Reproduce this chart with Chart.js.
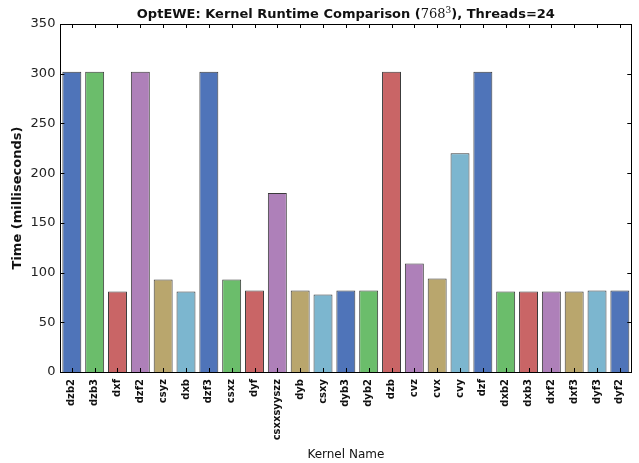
<!DOCTYPE html>
<html>
<head>
<meta charset="utf-8">
<script src="https://cdn.jsdelivr.net/npm/chart.js@4"></script>
<style>
  html, body { margin: 0; padding: 0; background: #fff; }
  #wrap { width: 639px; height: 463px; }
</style>
</head>
<body>
<div id="wrap"><canvas id="chart" width="639" height="463"></canvas></div>
<script>
// kernel names and runtimes (ms)
const kernels = ['dzb2', 'dzb3', 'dxf', 'dzf2', 'csyz', 'dxb', 'dzf3', 'csxz', 'dyf', 'csxxsyyszz',
    'dyb', 'csxy', 'dyb3', 'dyb2', 'dzb', 'cvz', 'cvx', 'cvy', 'dzf', 'dxb2', 'dxb3', 'dxf2', 'dxf3', 'dyf3', 'dyf2'];
const runtimes = [302, 302, 81, 302, 93, 81, 302, 93, 82, 180,
    82, 78, 82, 82, 302, 109, 94, 220, 302, 81, 81, 81, 81, 82, 82];
const yTicks = [0, 50, 100, 150, 200, 250, 300, 350];

// seaborn-ish cycle
const palette = ['#4f74b9', '#6bbd6b', '#c96566', '#ae80b9', '#b9a66d', '#7cb6cf'];
const barColors = kernels.map((k, i) => palette[i % palette.length]);

// title pieces: bold sans, with the grid size in serif + superscript
const titleParts = [
    { text: 'OptEWE: Kernel Runtime Comparison (', font: 'bold 13px "DejaVu Sans"', dy: 0 },
    { text: '768', font: '13px "DejaVu Serif"', dy: 0 },
    { text: '3', font: '9px "DejaVu Serif"', dy: -5 },
    { text: '), Threads=24', font: 'bold 13px "DejaVu Sans"', dy: 0 }
];

// inward tick marks on all four sides + frame + title over the plot area
const frameTicks = {
    id: 'frameTicks',
    afterDraw(chart) {
        const ctx = chart.ctx;
        const a = chart.chartArea;
        const xs = chart.scales.x, ys = chart.scales.y;
        const len = 4;
        ctx.save();
        ctx.strokeStyle = '#000';
        ctx.lineWidth = 1;
        ctx.beginPath();
        xs.ticks.forEach((t, i) => {
            const px = Math.round(xs.getPixelForTick(i)) + 0.5;
            ctx.moveTo(px, a.bottom); ctx.lineTo(px, a.bottom - len);
            ctx.moveTo(px, a.top); ctx.lineTo(px, a.top + len);
        });
        ys.ticks.forEach((t, i) => {
            const py = Math.round(ys.getPixelForTick(i)) + 0.5;
            ctx.moveTo(a.left, py); ctx.lineTo(a.left + len, py);
            ctx.moveTo(a.right, py); ctx.lineTo(a.right - len, py);
        });
        ctx.stroke();
        ctx.strokeRect(Math.round(a.left) + 0.5, Math.round(a.top) + 0.5,
            Math.round(a.right - a.left), Math.round(a.bottom - a.top));

        // title
        ctx.fillStyle = '#111';
        ctx.textBaseline = 'alphabetic';
        ctx.textAlign = 'left';
        let total = 0;
        titleParts.forEach(p => { ctx.font = p.font; p.w = ctx.measureText(p.text).width; total += p.w; });
        let x = (a.left + a.right) / 2 - total / 2;
        const base = a.top - 6;
        titleParts.forEach(p => {
            ctx.font = p.font;
            ctx.fillText(p.text, x, base + p.dy);
            x += p.w;
        });
        ctx.restore();
    }
};

new Chart(document.getElementById('chart'), {
    type: 'bar',
    data: {
        labels: kernels,
        datasets: [{
            data: runtimes,
            backgroundColor: barColors,
            borderColor: '#3a3a3a',
            borderWidth: 1,
            barPercentage: 0.83,
            categoryPercentage: 1.0
        }]
    },
    options: {
        responsive: false,
        animation: false,
        devicePixelRatio: 1,
        layout: { padding: { top: 24, right: 7, bottom: 0, left: 10 } },
        plugins: {
            legend: { display: false },
            tooltip: { enabled: false },
            title: { display: false }
        },
        scales: {
            x: {
                grid: { display: false, drawTicks: false },
                border: { display: false },
                afterFit(scale) { scale.height = 91; },
                ticks: {
                    autoSkip: false,
                    maxRotation: 90,
                    minRotation: 90,
                    color: '#111',
                    padding: 7,
                    font: { family: 'DejaVu Sans', size: 10, weight: 'bold' }
                },
                title: {
                    display: true,
                    text: 'Kernel Name',
                    color: '#111',
                    font: { family: 'DejaVu Sans', size: 12 },
                    padding: { top: 2, bottom: 1 }
                }
            },
            y: {
                min: 0,
                max: 350,
                afterBuildTicks(scale) { scale.ticks = yTicks.map(v => ({ value: v })); },
                grid: { display: false, drawTicks: false },
                border: { display: false },
                ticks: {
                    color: '#222',
                    padding: 5,
                    font: { family: 'DejaVu Sans', size: 13 }
                },
                title: {
                    display: true,
                    text: 'Time (milliseconds)',
                    color: '#111',
                    font: { family: 'DejaVu Sans', size: 13, weight: 'bold' },
                    padding: { top: 0, bottom: 0 }
                }
            }
        }
    },
    plugins: [frameTicks]
});
</script>
</body>
</html>
